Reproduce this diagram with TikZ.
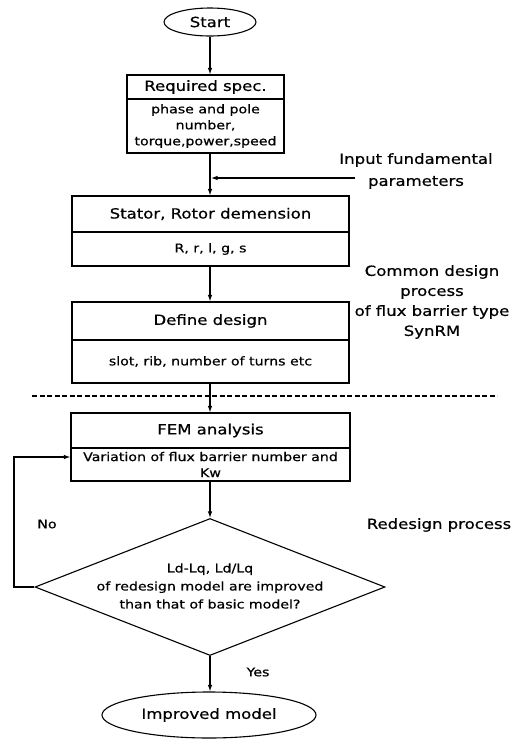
\documentclass[tikz,border=0pt]{standalone}
\usepackage{fontspec}
\setmainfont{DejaVu Sans}[FakeStretch=1.18,FakeBold=0.6]
\usetikzlibrary{shapes.geometric,arrows.meta}
\begin{document}
\begin{tikzpicture}[x=1pt,y=-1pt,
  line width=1.1pt,
  font=\fontsize{14}{16}\selectfont,
  arr/.style={-{Latex[length=6.5pt,width=4.5pt]}},
  term/.style={ellipse,draw,inner sep=0pt},
  hdr/.style={rectangle,draw,inner sep=0pt},
  body/.style={rectangle,draw,inner sep=0pt,align=center},
  small/.style={font=\fontsize{12}{16}\selectfont},
  lbl/.style={align=center,inner sep=0pt}]
\useasboundingbox (0,0) rectangle (518,740);
% start
\node[term,minimum width=92pt,minimum height=28pt] (start) at (210,22) {Start};
% required spec
\node[hdr,minimum width=157pt,minimum height=24pt] (reqh) at (205.5,87) {Required spec.};
\node[body,small,minimum width=157pt,minimum height=54pt] (reqb) at (205.5,126)
  {phase and pole\\number,\\torque,power,speed};
% stator rotor
\node[hdr,minimum width=277pt,minimum height=36pt] (sth) at (210.5,214) {Stator, Rotor demension};
\node[body,small,minimum width=277pt,minimum height=34pt] (stb) at (210.5,249) {R, r, l, g, s};
% define design
\node[hdr,minimum width=277pt,minimum height=38pt] (defh) at (210.5,321) {Define design};
\node[body,small,minimum width=277pt,minimum height=43pt] (defb) at (210.5,361.5) {slot, rib, number of turns etc};
% FEM
\node[hdr,minimum width=279pt,minimum height=35pt] (femh) at (210.5,430.5) {FEM analysis};
\node[body,small,minimum width=279pt,minimum height=33pt] (femb) at (210.5,464.5)
  {Variation of flux barrier number and\\Kw};
% decision
\node[diamond,draw,minimum width=350pt,minimum height=137pt,inner sep=0pt] (dec) at (210,587) {};
\node[lbl,font=\fontsize{12}{18}\selectfont] (dect) at (210,586) {Ld-Lq, Ld/Lq\\of redesign model are improved\\than that of basic model?};
% improved model
\node[term,minimum width=214pt,minimum height=46pt] (imp) at (209,715) {Improved model};
% connectors
\draw[arr] (start.south) -- (start.south |- reqh.north);
\draw[arr] (start.south |- reqb.south) -- (start.south |- sth.north);
\draw[arr] (start.south |- stb.south) -- (start.south |- defh.north);
\draw[arr] (start.south |- defb.south) -- (start.south |- femh.north);
\draw[arr] (start.south |- femb.south) -- (dec.north);
\draw[arr] (dec.south) -- (dec.south |- imp.north);
\coordinate (inp) at (355,178);
\coordinate (inpend) at (211,178);
\draw[arr] (inp) -- (inpend);
\coordinate (fb) at (14,587);
\draw[arr] (dec.west) -- (fb) |- ([yshift=7.5pt]femb.west);
% dashed separator
\coordinate (d1) at (32,396);
\coordinate (d2) at (497,396);
\draw[line width=1.3pt,dash pattern=on 5pt off 2.5pt] (d1) -- (d2);
% labels
\node[lbl,font=\fontsize{14}{22}\selectfont] (inl) at (416,171) {Input fundamental\\parameters};
\node[lbl,font=\fontsize{14}{20}\selectfont] (cml) at (432,302) {Common design\\process\\of flux barrier type\\SynRM};
\node[lbl] (rdl) at (439,525) {Redesign process};
\node[lbl,small] (nol) at (47,524) {No};
\node[lbl,small] (yesl) at (258,672) {Yes};
\end{tikzpicture}
\end{document}
